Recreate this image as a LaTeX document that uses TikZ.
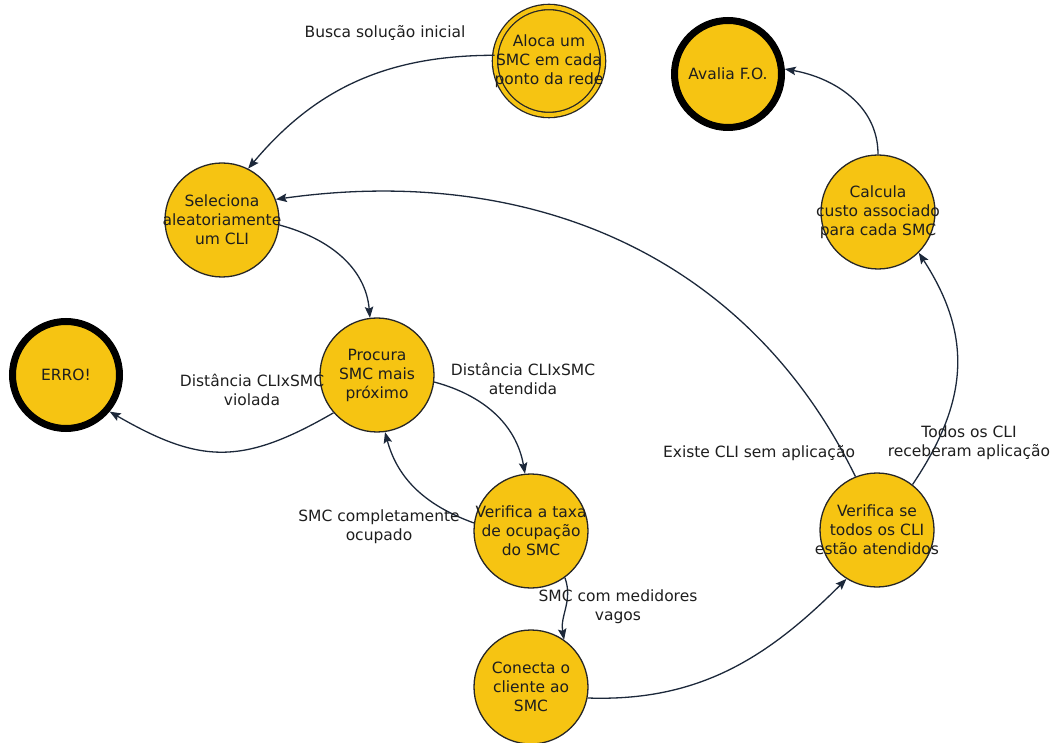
\documentclass[tikz,border=0pt]{standalone}
\usepackage{fontspec}
\setmainfont{DejaVu Sans}
\usetikzlibrary{arrows.meta}
\definecolor{statefill}{RGB}{246,196,18}
\definecolor{edgecol}{RGB}{28,40,58}
\definecolor{txtcol}{RGB}{30,30,30}
\begin{document}
\begin{tikzpicture}[x=1pt,y=1pt,
  font=\fontsize{15.5}{19}\selectfont,
  every label/.style={align=center, text=txtcol, inner sep=0pt},
  state/.style={circle, draw=black!85, line width=1.3pt, fill=statefill,
    minimum size=114pt, inner sep=0pt,
    label={center:{#1}}},
  initial/.style={state={#1}, double=statefill, double distance=4pt, minimum size=108pt},
  final/.style={state={#1}, line width=7pt, draw=black, minimum size=107pt},
  trans/.style={draw=edgecol, line width=1.3pt,
    -{Stealth[length=11pt,width=8.5pt,inset=2pt]}},
  edgetext/.style={align=center, text=txtcol, inner sep=1pt}
]
\useasboundingbox (0,0) rectangle (1056,742);

% states
\node[initial={Aloca um\\SMC em cada\\ponto da rede}] (aloca) at (549,681) {};
\node[final={Avalia F.O.}] (avalia) at (728,668) {};
\node[state={Seleciona\\aleatoriamente\\um CLI}] (sel) at (222,522) {};
\node[state={Calcula\\custo associado\\para cada SMC}] (calc) at (878,530) {};
\node[final={ERRO!}] (erro) at (66,367) {};
\node[state={Procura\\SMC mais\\próximo}] (proc) at (377,367) {};
\node[state={Verifica a taxa\\de ocupação\\do SMC}] (vtaxa) at (531,211) {};
\node[state={Verifica se\\todos os CLI\\estão atendidos}] (vse) at (877,212) {};
\node[state={Conecta o\\cliente ao\\SMC}] (conecta) at (531,55) {};

% transitions
\draw[trans] (aloca.174) to[out=180, in=50] (sel.63);
\draw[trans] (calc.90) to[out=90, in=-10] (avalia.5);
\draw[trans] (vse.112) to[out=116, in=8] (sel.21);
\draw[trans] (vse.52) to[out=56, in=-57, looseness=1.1] (calc.-45);
\draw[trans] (sel.-5) to[out=-15, in=95] (proc.97);
\draw[trans] (proc.221) to[out=210, in=-30, looseness=1.2] (erro.-40);
\draw[trans] (proc.-7) to[out=-15, in=100] (vtaxa.96);
\draw[trans] (vtaxa.172) to[out=160, in=-75] (proc.-82);
\draw[trans] (vtaxa.-54) to[out=-70, in=100] (conecta.55);
\draw[trans] (conecta.-11) to[out=-2, in=225] (vse.238);

% transition labels
\node[edgetext] (tBusca) at (385,709) {Busca solução inicial};
\node[edgetext] (tExiste) at (759,289) {Existe CLI sem aplicação};
\node[edgetext] (tTodos) at (969,299) {Todos os CLI\\receberam aplicação};
\node[edgetext] (tViolada) at (252,352) {Distância CLIxSMC\\violada};
\node[edgetext] (tAtendida) at (523,363) {Distância CLIxSMC\\atendida};
\node[edgetext] (tOcupado) at (379,215) {SMC completamente\\ocupado};
\node[edgetext] (tVagos) at (618,135) {SMC com medidores\\vagos};
\end{tikzpicture}
\end{document}
